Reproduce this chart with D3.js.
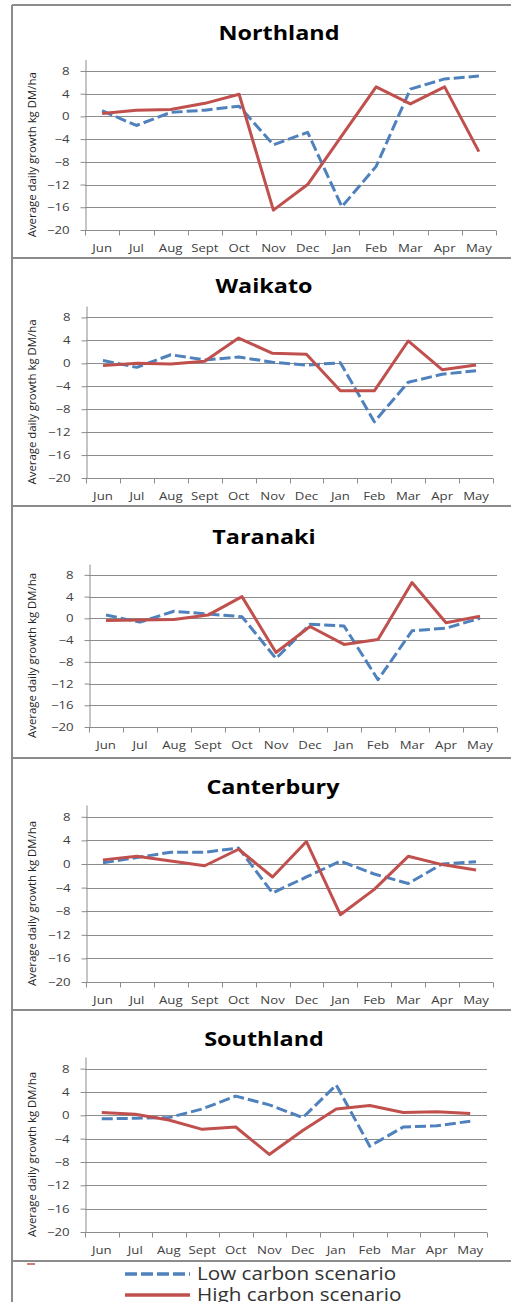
<!DOCTYPE html>
<html>
<head>
<meta charset="utf-8">
<script src="https://cdn.jsdelivr.net/npm/d3@7"></script>
<style>
  body { margin: 0; background: #fff; }
  svg { display: block; font-family: "Open Sans", sans-serif; }
</style>
</head>
<body>
<div id="chart"></div>
<script>
// months on the x axis
const months = ["Jun", "Jul", "Aug", "Sept", "Oct", "Nov", "Dec", "Jan", "Feb", "Mar", "Apr", "May"];
const regions = ["Northland", "Waikato", "Taranaki", "Canterbury", "Southland"];
const yTicks = [-20, -16, -12, -8, -4, 0, 4, 8];
const seriesNames = ["Low carbon scenario", "High carbon scenario"];

// average daily growth, kg DM/ha
const lowNorthland = [1.0, -1.6, 0.7, 1.1, 1.8, -5.0, -2.8, -15.9, -8.8, 4.8, 6.6, 7.1];
const highNorthland = [0.5, 1.1, 1.2, 2.3, 3.9, -16.5, -12.0, -3.4, 5.2, 2.2, 5.2, -6.2];
const lowWaikato = [0.5, -0.7, 1.5, 0.6, 1.1, 0.2, -0.3, 0.1, -10.2, -3.3, -1.9, -1.3];
const highWaikato = [-0.4, 0.0, -0.1, 0.35, 4.4, 1.75, 1.6, -4.8, -4.8, 3.9, -1.1, -0.3];
const lowTaranaki = [0.6, -0.7, 1.3, 0.8, 0.3, -7.4, -1.1, -1.4, -11.3, -2.3, -1.8, 0.0];
const highTaranaki = [-0.4, -0.3, -0.2, 0.6, 4.0, -6.3, -1.5, -4.8, -3.9, 6.6, -0.8, 0.4];
const lowCanterbury = [0.2, 1.1, 2.0, 2.0, 2.7, -4.9, -2.2, 0.5, -1.7, -3.3, 0.0, 0.4];
const highCanterbury = [0.7, 1.3, 0.5, -0.3, 2.5, -2.2, 3.8, -8.6, -4.3, 1.3, -0.1, -1.0];
const lowSouthland = [-0.6, -0.5, -0.4, 1.1, 3.3, 1.8, -0.4, 5.2, -5.3, -2.0, -1.8, -1.0];
const highSouthland = [0.5, 0.2, -0.8, -2.4, -2.0, -6.7, -2.6, 1.1, 1.7, 0.5, 0.6, 0.3];

const lowSeries = [lowNorthland, lowWaikato, lowTaranaki, lowCanterbury, lowSouthland];
const highSeries = [highNorthland, highWaikato, highTaranaki, highCanterbury, highSouthland];

// panel layout (pixels)
const panels = [
  { bottom: 258, x0: 85, x1: 496, yTop: 59.6, yBot: 230, titleX: 279, titleY: 33 },
  { bottom: 506, x0: 86, x1: 493, yTop: 306, yBot: 478, titleX: 264, titleY: 286 },
  { bottom: 758, x0: 89, x1: 497, yTop: 564, yBot: 727, titleX: 264, titleY: 537 },
  { bottom: 1010, x0: 86, x1: 493, yTop: 805, yBot: 982, titleX: 273, titleY: 787 },
  { bottom: 1261, x0: 85, x1: 487, yTop: 1057, yBot: 1232, titleX: 264, titleY: 1039 }
];

const width = 511;
const height = 1302;
const blue = "#4f81bd";
const red = "#c0504d";
const gridColor = "#8c8c8c";
const textColor = "#404040";
const sx = 1.2; // horizontal stretch of the picture's text

const svg = d3
  .select("#chart")
  .append("svg")
  .attr("width", width)
  .attr("height", height);

svg.append("rect").attr("width", width).attr("height", height).attr("fill", "#fff");

// outer frame
svg.append("line")
  .attr("x1", 12).attr("x2", 12).attr("y1", 5).attr("y2", height)
  .attr("stroke", "#8c8c8c").attr("stroke-width", 2);
svg.append("line")
  .attr("x1", 12).attr("x2", width).attr("y1", 5).attr("y2", 5)
  .attr("stroke", "#8c8c8c").attr("stroke-width", 2);

panels.forEach((p, i) => {
  const g = svg.append("g");

  const x = d3.scaleBand().domain(months).range([p.x0, p.x1]);
  const y = d3.scaleLinear().domain([-20, 10]).range([p.yBot, p.yTop]);

  // separator under the panel
  g.append("line")
    .attr("x1", 12).attr("x2", width)
    .attr("y1", p.bottom).attr("y2", p.bottom)
    .attr("stroke", "#8c8c8c").attr("stroke-width", 2);

  g.append("text")
    .attr("transform", `translate(${p.titleX},${p.titleY}) scale(1.17,1)`)
    .attr("text-anchor", "middle")
    .attr("dy", "0.35em")
    .attr("font-size", 20)
    .attr("font-weight", "bold")
    .attr("fill", "#000")
    .text(regions[i]);

  // gridlines
  g.append("g")
    .selectAll("line")
    .data(yTicks.filter((d) => d > -20))
    .join("line")
    .attr("x1", p.x0).attr("x2", p.x1)
    .attr("y1", (d) => Math.round(y(d)) + 0.5)
    .attr("y2", (d) => Math.round(y(d)) + 0.5)
    .attr("stroke", gridColor)
    .attr("stroke-width", 1);

  // y axis
  const yAxis = g.append("g")
    .attr("transform", `translate(${Math.round(p.x0) + 0.5},0)`)
    .call(d3.axisLeft(y).tickValues(yTicks).tickSize(5).tickSizeOuter(0));
  yAxis.select(".domain").attr("stroke", gridColor);
  yAxis.selectAll(".tick line").attr("stroke", gridColor);
  yAxis.selectAll(".tick text")
    .attr("x", -16 / sx)
    .attr("transform", `scale(${sx},1)`)
    .attr("font-size", 11)
    .attr("font-family", "Open Sans")
    .attr("fill", textColor);

  // x axis line and tick marks at the category edges
  const yBase = Math.round(p.yBot) + 0.5;
  g.append("line")
    .attr("x1", p.x0).attr("x2", p.x1)
    .attr("y1", yBase).attr("y2", yBase)
    .attr("stroke", gridColor);
  g.append("g")
    .selectAll("line")
    .data(months.map((m) => x(m)).concat([p.x1]))
    .join("line")
    .attr("x1", (d) => Math.round(d) + 0.5)
    .attr("x2", (d) => Math.round(d) + 0.5)
    .attr("y1", yBase).attr("y2", yBase + 5)
    .attr("stroke", gridColor);

  const xAxis = g.append("g")
    .attr("transform", `translate(0,${p.yBot})`)
    .call(d3.axisBottom(x).tickSize(0).tickPadding(0));
  xAxis.select(".domain").remove();
  xAxis.selectAll(".tick text")
    .attr("y", 18)
    .attr("dy", "0.35em")
    .attr("transform", `scale(${sx},1)`)
    .attr("font-size", 11)
    .attr("font-family", "Open Sans")
    .attr("fill", textColor);

  // y axis title
  g.append("text")
    .attr("transform", `translate(32,${(p.yTop + p.yBot) / 2 + 10}) rotate(-90)`)
    .attr("text-anchor", "middle")
    .attr("dy", "0.35em")
    .attr("font-size", 11)
    .attr("textLength", 165)
    .attr("lengthAdjust", "spacingAndGlyphs")
    .attr("fill", "#222")
    .text("Average daily growth kg DM/ha");

  const line = d3.line()
    .x((d, j) => x(months[j]) + x.bandwidth() / 2)
    .y((d) => y(d));

  g.append("path")
    .datum(lowSeries[i])
    .attr("d", line)
    .attr("fill", "none")
    .attr("stroke", blue)
    .attr("stroke-width", 3)
    .attr("stroke-dasharray", "11,4")
    .attr("stroke-linejoin", "round");

  g.append("path")
    .datum(highSeries[i])
    .attr("d", line)
    .attr("fill", "none")
    .attr("stroke", red)
    .attr("stroke-width", 3)
    .attr("stroke-linejoin", "round");
});

// stray mark left of the legend
svg.append("line")
  .attr("x1", 27).attr("x2", 35).attr("y1", 1264).attr("y2", 1264)
  .attr("stroke", red).attr("stroke-width", 1.5);

// legend
const legend = svg.append("g")
  .selectAll("g")
  .data(seriesNames)
  .join("g")
  .attr("transform", (d, i) => `translate(125,${1274 + i * 21})`);

legend.append("line")
  .attr("x1", 0).attr("x2", 65)
  .attr("stroke", (d, i) => (i === 0 ? blue : red))
  .attr("stroke-width", 3.5)
  .attr("stroke-dasharray", (d, i) => (i === 0 ? "12,4" : null));

legend.append("text")
  .attr("transform", "translate(72,0) scale(1.15,1)")
  .attr("dy", "0.35em")
  .attr("font-size", 18)
  .attr("fill", "#333")
  .text((d) => d);
</script>
</body>
</html>
